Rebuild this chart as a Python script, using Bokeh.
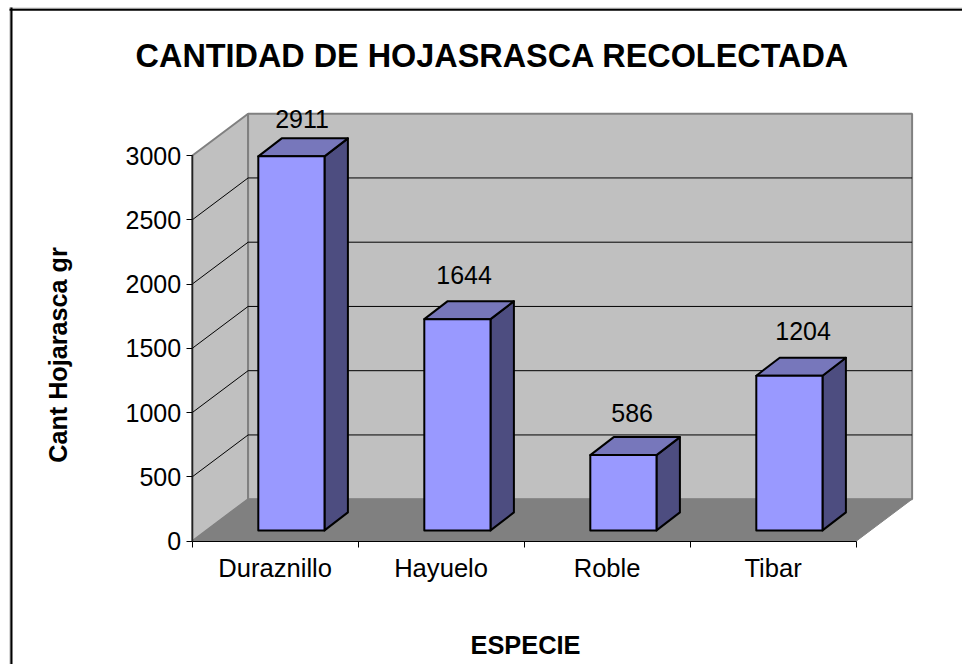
from bokeh.plotting import figure
from bokeh.models import LinearAxis, FixedTicker, Range1d, Label
from bokeh.core.properties import value
from bokeh.embed import file_html
from bokeh.resources import INLINE

species = ["Duraznillo", "Hayuelo", "Roble", "Tibar"]
amounts = [2911, 1644, 586, 1204]
y_ticks = [0, 500, 1000, 1500, 2000, 2500, 3000]
title_text = "CANTIDAD DE HOJASRASCA RECOLECTADA"
x_title = "ESPECIE"
y_title = "Cant Hojarasca gr"

# small placement nudges of the data labels, in pixels
label_dx = [-1, -5, -3, 2]
label_dy = [-6, 1, -1, 2]

W, H = 962, 664
X0, Y0 = 191.6, 540.7            # pixel of x=0 / y=0
PX_X = 166.0                     # px per category
PX_Y = (541.5 - 156) / 3000      # px per unit of value
FONT = "Liberation Sans"

x_min, x_max = -X0 / PX_X, (W - X0) / PX_X
y_min, y_max = -(H - Y0) / PX_Y, Y0 / PX_Y

p = figure(width=W, height=H, x_range=Range1d(x_min, x_max), y_range=Range1d(y_min, y_max), tools="",
           toolbar_location=None, output_backend="svg", min_border=0,
           x_axis_location=None, y_axis_location=None,
           outline_line_color=None, background_fill_color="white", border_fill_color="white")
p.grid.visible = False

dx, dy = 56 / PX_X, 42 / PX_Y          # depth of the box
n = len(species)
top = y_ticks[-1]

# walls and floor
p.patch([0, dx, dx, 0], [top, top + dy, dy, 0], fill_color="#C0C0C0", line_color="#808080", line_width=2)
p.patch([dx, n + dx, n + dx, dx], [dy, dy, top + dy, top + dy], fill_color="#C0C0C0", line_color="#808080", line_width=2)
p.patch([0, n, n + dx, dx], [0, 0, dy, dy], fill_color="#808080", line_color="#808080", line_width=1)
# grid
inner = y_ticks[1:-1]
p.segment([dx] * len(inner), [t + dy for t in inner], [n + dx] * len(inner), [t + dy for t in inner],
          line_color="black", line_width=1)
p.segment([0] * len(inner), inner, [dx] * len(inner), [t + dy for t in inner], line_color="black", line_width=1)

# bars
bw = 66.2 / PX_X
ox, oy = 16.3 / PX_X, 10.8 / PX_Y      # bar front offset from the front plane
bx, by = 23.4 / PX_X, 18 / PX_Y        # bar depth
for i, v in enumerate(amounts):
    l = i + 0.5 + ox - bw / 2
    r = l + bw
    b = oy
    t = oy + v
    p.patch([r, r + bx, r + bx, r], [b, b + by, t + by, t], fill_color="#4D4D80", line_color="black", line_width=2, line_join="round")
    p.patch([l, r, r + bx, l + bx], [t, t, t + by, t + by], fill_color="#7777BB", line_color="black", line_width=2, line_join="round")
    p.patch([l, r, r, l], [b, b, t, t], fill_color="#9999FF", line_color="black", line_width=2, line_join="round")

# data labels
p.text([i + 0.5 + ox + bx / 2 + label_dx[i] / PX_X for i in range(n)],
       [amounts[i] + oy + (43 + label_dy[i]) / PX_Y for i in range(n)],
       text=[str(v) for v in amounts], text_align="center", text_baseline="middle",
       text_font=value(FONT), text_font_size="25px", text_color="black")

# axes (inside the frame)
ya = LinearAxis(fixed_location=0, bounds=(0, top), ticker=FixedTicker(ticks=y_ticks))
ya.major_tick_out = 6
ya.major_tick_in = 0
ya.minor_tick_line_color = None
ya.axis_line_color = "#222222"
ya.axis_line_width = 1.5
ya.major_tick_line_color = "black"
ya.major_label_standoff = 5
ya.major_label_text_font = FONT
ya.major_label_text_font_size = "25px"
ya.major_label_text_color = "black"
p.add_layout(ya, "left")

xa = LinearAxis(fixed_location=0, bounds=(0, n), ticker=FixedTicker(ticks=list(range(n + 1))))
xa.major_tick_out = 6
xa.major_tick_in = 0
xa.minor_tick_line_color = None
xa.axis_line_color = "black"
xa.axis_line_width = 1
xa.major_tick_line_color = "black"
xa.major_label_text_font_size = "0px"
xa.major_label_overrides = {k: "" for k in range(n + 1)}
p.add_layout(xa, "below")

xl = LinearAxis(fixed_location=0, ticker=FixedTicker(ticks=[i + 0.5 for i in range(n)]))
xl.major_tick_line_color = None
xl.minor_tick_line_color = None
xl.axis_line_color = None
xl.major_label_standoff = 7
xl.major_label_overrides = {i + 0.5: s for i, s in enumerate(species)}
xl.major_label_text_font = FONT
xl.major_label_text_font_size = "25.6px"
xl.major_label_text_color = "black"
p.add_layout(xl, "below")

# frame lines of the chart area (only top and left are in view)
def hline(px, color, w):
    y = (Y0 - px) / PX_Y
    p.segment([(9 - X0) / PX_X], [y], [x_max], [y], line_color=color, line_width=w)

def vline(px, color, w):
    x = (px - X0) / PX_X
    p.segment([x], [(Y0 - 7) / PX_Y], [x], [y_min], line_color=color, line_width=w)

hline(7.8, "#808080", 1)
vline(9.7, "#808080", 1)
hline(9.4, "black", 1.8)
vline(11, "black", 2)

# texts
def label(x, y, text, size, angle=0):
    p.add_layout(Label(x=x, y=H - y, x_units="screen", y_units="screen", text=text, angle=angle, angle_units="deg",
                       text_align="center", text_baseline="middle", text_font=FONT, text_font_style="bold",
                       text_font_size=size, text_color="black"))

label(492, 55, title_text, "32.4px")
label(57, 354.5, y_title, "25.2px", 90)
label(525, 644, x_title, "25.4px")

open("out.html", "w").write(file_html(p, INLINE))
